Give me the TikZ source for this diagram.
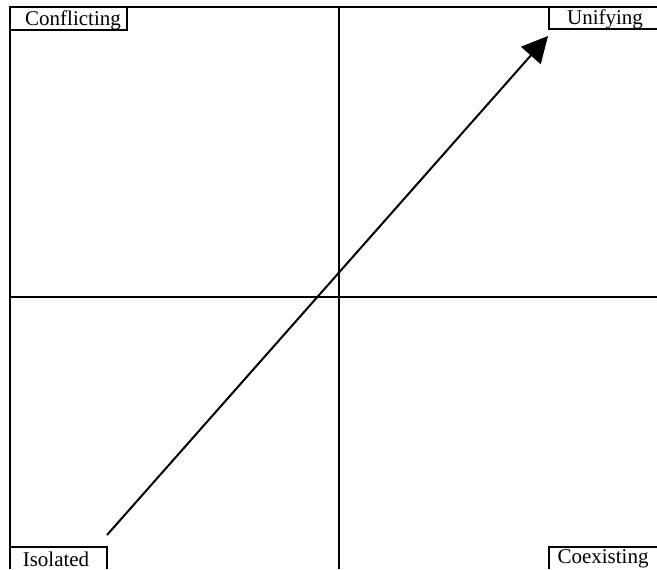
\documentclass[tikz,border=0pt]{standalone}
\usepackage{fontspec}
\setmainfont{Liberation Serif}
\usepackage{tikz}
\usetikzlibrary{
calc,
positioning,
arrows.meta
}
\definecolor{ink}{HTML}{000000}

\tikzset{
quadlabel/.style={
font=\fontsize{10.5}{12}\selectfont,
text=ink,
inner sep=0pt
},
rule/.style={
draw=ink,
line width=1pt
}
}

\begin{document}
\begin{tikzpicture}[x=0.5pt,y=-0.5pt]
\useasboundingbox (0,0) rectangle (657,569);

% frame and axes
\draw[rule] (10,569) -- (10,7) -- (657,7);
\draw[rule] (10,297) -- (657,297);
\draw[rule] (339,7) -- (339,569);

% corner labels
\node[
quadlabel
]
(conflicting) at (73,20)
{
Conflicting
};
\draw[rule] (10,30) -| (127,7);

\node[
quadlabel
]
(unifying) at (605,19)
{
Unifying
};
\draw[rule] (657,29) -| (549,7);

\node[
quadlabel
]
(isolated) at (56,559)
{
Isolated
};
\draw[rule] (10,547) -| (107,569);

\node[
quadlabel
]
(coexisting) at (603,559)
{
Coexisting
};
\draw[rule] (657,547) -| (549,569);

% diagonal
\coordinate (start) at (107,535);
\coordinate (goal) at (548,36);
\draw[
rule,
-{Triangle[length=13pt,width=13pt]}
]
(start) -- (goal);

\end{tikzpicture}
\end{document}
